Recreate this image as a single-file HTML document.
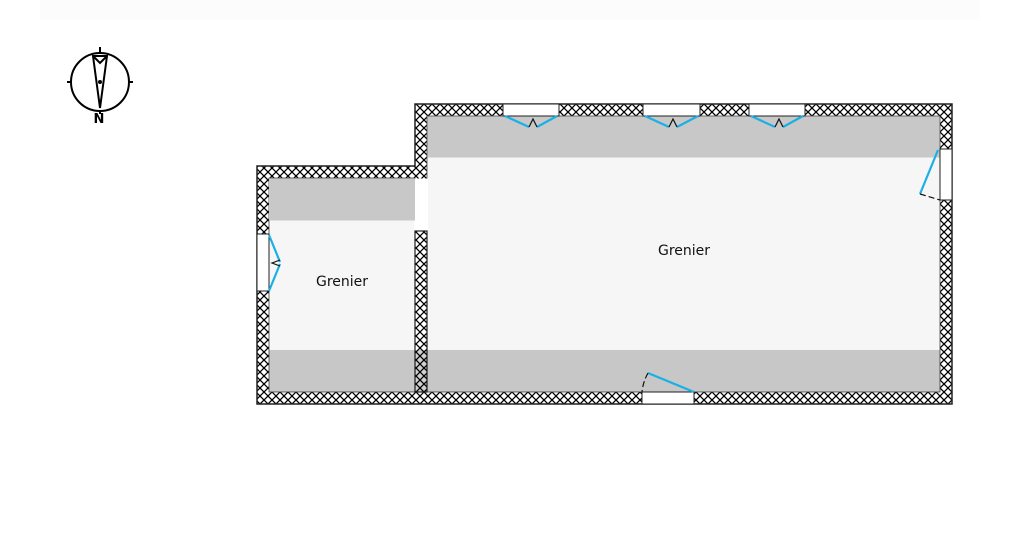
<!DOCTYPE html>
<html><head><meta charset="utf-8"><style>
html,body{margin:0;padding:0;background:#fff;width:1029px;height:546px;overflow:hidden}
svg{display:block}
text{font-family:"DejaVu Sans","Liberation Sans",sans-serif}
</style></head><body>
<svg width="1029" height="546" viewBox="0 0 1029 546" xmlns="http://www.w3.org/2000/svg">
<defs>
<pattern id="h" width="8" height="8" patternUnits="userSpaceOnUse">
<rect width="8" height="8" fill="#fff"/>
<path d="M-1,-1 L9,9 M7,-1 L9,1 M-1,7 L1,9 M9,-1 L-1,9 M-1,1 L1,-1 M7,9 L9,7" stroke="#000" stroke-width="1.3"/>
</pattern>
</defs>
<rect x="40" y="0" width="940" height="20" fill="#fcfcfc"/>
<path d="M257,166 H415 V104 H952 V404 H257 Z" fill="url(#h)" stroke="#222" stroke-width="1.5"/>
<rect x="427" y="116" width="513" height="276" fill="#f6f6f6" stroke="#444" stroke-width="0.8"/>
<rect x="269" y="178" width="146" height="214" fill="#f6f6f6" stroke="#444" stroke-width="0.8"/>
<rect x="414" y="178.5" width="14" height="52" fill="#fff"/>
<rect x="269" y="178.5" width="146" height="42" fill="#c8c8c8"/>
<rect x="427.5" y="116.5" width="512" height="41" fill="#c8c8c8"/>
<rect x="415" y="231" width="12" height="161" fill="url(#h)" stroke="#222" stroke-width="1.2"/>
<rect x="269" y="350" width="671" height="42" fill="#000" fill-opacity="0.187"/>
<g fill="#fff" stroke="#222" stroke-width="1">
<rect x="503" y="104" width="56" height="12"/>
<rect x="643" y="104" width="57" height="12"/>
<rect x="749" y="104" width="56" height="12"/>
<rect x="940" y="149" width="12" height="51"/>
<rect x="642" y="392" width="52" height="12"/>
<rect x="257" y="234" width="12" height="57"/>
</g>
<g fill="none" stroke="#1ab0e6" stroke-width="2.2">
<path d="M505,116 L529,127 M537,127 L557,116"/>
<path d="M645,116 L669,127 M677,127 L698,116"/>
<path d="M751,116 L775,127 M783,127 L803,116"/>
<path d="M938,150 L920,194"/>
<path d="M694,392 L648,373"/>
<path d="M269,235 L280,262 M280,264 L269,291"/>
</g>
<g fill="none" stroke="#111" stroke-width="1.2">
<path d="M529,127 L533,119 L537,127"/>
<path d="M669,127 L673,119 L677,127"/>
<path d="M775,127 L779,119 L783,127"/>
<path d="M280,260 L272,263 L280,266"/>
<path d="M920,194 Q930,197 940,200" stroke-dasharray="6,3"/>
<path d="M648,373 Q643,382 642,392" stroke-dasharray="6,3"/>
</g>
<text x="684" y="255" font-size="14" text-anchor="middle" fill="#111">Grenier</text>
<text x="342" y="286" font-size="14" text-anchor="middle" fill="#111">Grenier</text>
<g stroke="#000" stroke-width="2" fill="none">
<circle cx="100" cy="82" r="29"/>
<path d="M100,47 V53 M100,111 V114 M67,82 H71 M129,82 H133"/>
<path d="M93,56 L107,56 L100,108 Z M93,56 L100,63 L107,56" stroke-width="2"/>
</g>
<circle cx="100" cy="82" r="2" fill="#000"/>
<text x="99" y="123" font-size="13" font-weight="bold" text-anchor="middle" fill="#000">N</text>
</svg>
</body></html>
